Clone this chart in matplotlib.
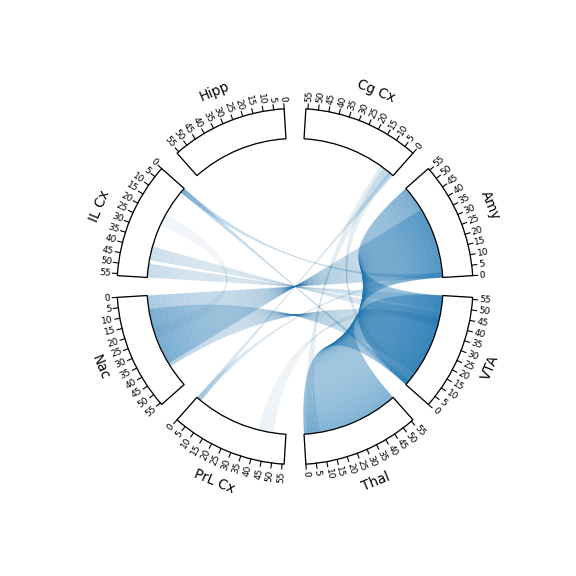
import numpy as np
import matplotlib.pyplot as plt
from matplotlib.patches import Wedge
from matplotlib.collections import LineCollection

# regions, placed counter-clockwise starting at 3 o'clock
regions = ['Amy', 'Cg Cx', 'Hipp', 'IL Cx', 'Nac', 'PrL Cx', 'Thal', 'VTA']
n_units = 56
tick_values = list(range(0, 56, 5))

# links join unit i of one region with unit i of another, for i in [lo, hi]
link_src = ['Amy', 'Thal', 'Nac', 'Nac', 'IL Cx', 'IL Cx', 'IL Cx', 'IL Cx', 'Cg Cx', 'Cg Cx', 'Cg Cx',
            'PrL Cx', 'PrL Cx', 'IL Cx']
link_dst = ['VTA', 'VTA', 'Amy', 'VTA', 'VTA', 'VTA', 'VTA', 'Amy', 'PrL Cx', 'VTA', 'Thal',
            'Amy', 'VTA', 'Nac']
link_lo = [0, 0, 0, 8, 38, 48, 0, 0, 0, 1, 2, 0, 40, 18]
link_hi = [55, 55, 40, 42, 45, 55, 2, 2, 2, 6, 8, 2, 48, 24]
link_w = [0.6, 0.55, 0.35, 0.3, 0.2, 0.22, 0.35, 0.3, 0.2, 0.12, 0.12, 0.2, 0.07, 0.05]

r_in, r_out = 148, 178
gap = 7.0
span = 45.0 - gap


def angle(region, v):
    k = regions.index(region)
    return 45 * k + gap / 2 + v * span / n_units


fig = plt.figure(figsize=(8, 8), dpi=72)
ax = fig.add_axes([0, 0, 1, 1])
ax.set_xlim(-295, 281)
ax.set_ylim(-289.5, 286.5)
ax.set_aspect('equal')
ax.axis('off')

# chords: quadratic bezier through the centre, fading with distance from the ends
t = np.linspace(0, 1, 51)
segs, cols = [], []
for a, b, lo, hi, w in zip(link_src, link_dst, link_lo, link_hi, link_w):
    for i in range(lo, hi + 1):
        for off in (0.2, 0.5, 0.8):
            ta = np.radians(angle(a, i + off))
            tb = np.radians(angle(b, i + off))
            p0 = r_in * np.array([np.cos(ta), np.sin(ta)])
            p2 = r_in * np.array([np.cos(tb), np.sin(tb)])
            pts = np.outer((1 - t) ** 2, p0) + np.outer(t ** 2, p2)
            step = np.hypot(*np.diff(pts, axis=0).T)
            s = np.concatenate([[0], np.cumsum(step)])
            sm = (s[:-1] + s[1:]) / 2
            d = np.minimum(sm, s[-1] - sm)
            fade = 0.05 + 0.95 * np.exp(-d / 60.0)
            for j in range(len(t) - 1):
                segs.append(pts[j:j + 2])
                cols.append((0.12, 0.47, 0.71, min(1.0, w * 0.9 * fade[j])))
ax.add_collection(LineCollection(segs, colors=cols, linewidths=0.8, capstyle='butt'))

# region boxes, ticks and labels
for k, name in enumerate(regions):
    a0 = angle(name, 0)
    a1 = angle(name, n_units)
    ax.add_patch(Wedge((0, 0), r_out, a0, a1, width=r_out - r_in,
                       facecolor='white', edgecolor='black', lw=1.3, zorder=3))
    for v in tick_values:
        th = np.radians(angle(name, v))
        c, s = np.cos(th), np.sin(th)
        ax.plot([r_out * c, (r_out + 5) * c], [r_out * s, (r_out + 5) * s],
                color='black', lw=1.1, zorder=3)
        deg = np.degrees(th) % 360
        if 90 < deg < 270:
            rot, ha = deg - 180, 'right'
        else:
            rot, ha = deg, 'left'
        ax.text((r_out + 7) * c, (r_out + 7) * s, str(v), rotation=rot,
                rotation_mode='anchor', ha=ha, va='center', fontsize=9)
    mid = 45 * k + 22.5
    rot = mid - 90
    if rot < -90:
        rot += 180
    if rot > 90:
        rot -= 180
    ax.text(211 * np.cos(np.radians(mid)), 211 * np.sin(np.radians(mid)), name,
            rotation=rot, rotation_mode='anchor', ha='center', va='center', fontsize=13.5)

fig.savefig('out.png', dpi=72)
